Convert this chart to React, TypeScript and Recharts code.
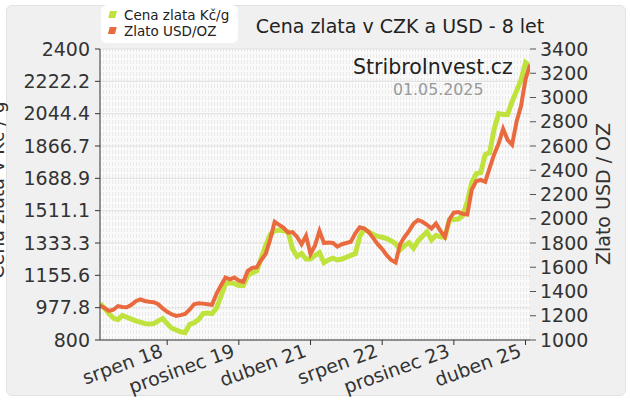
import { CartesianGrid, Line, LineChart, XAxis, YAxis } from "recharts";

// Cena zlata v CZK a USD - 8 let (měsíčně, květen 2017 – květen 2025)
const monthNames = [
  "leden", "únor", "březen", "duben", "květen", "červen",
  "červenec", "srpen", "září", "říjen", "listopad", "prosinec",
];
const months = Array.from({ length: 97 }, (_, k) => {
  const m = 4 + k;
  return `${monthNames[m % 12]} ${17 + Math.floor(m / 12)}`;
});

const czk = [
  1000, 975, 945, 920, 912, 935, 925, 915, 905, 898, 890, 888, 890, 905, 918, 890,
  865, 855, 845, 840, 885, 895, 912, 945, 948, 945, 975, 1040, 1110, 1115, 1110, 1100,
  1100, 1155, 1170, 1180, 1250, 1320, 1380, 1400, 1405, 1400, 1395, 1300, 1260, 1275, 1245, 1245,
  1265, 1280, 1225, 1240, 1250, 1240, 1245, 1255, 1265, 1275, 1370, 1410, 1395, 1380, 1370, 1365,
  1358, 1345, 1330, 1295, 1320, 1335, 1305, 1345, 1370, 1395, 1350, 1375, 1368, 1365, 1460, 1462,
  1465, 1485, 1560, 1665, 1715, 1720, 1820, 1830, 1960, 2045, 2040, 2040, 2110, 2170, 2230, 2325,
  2305,
];

const usd = [
  1285, 1265, 1240, 1250, 1280, 1272, 1270, 1290, 1320, 1335, 1322, 1315, 1312, 1295, 1260, 1233,
  1212, 1198, 1205, 1215, 1250, 1295, 1302, 1300, 1295, 1290, 1380, 1450, 1515, 1500, 1515, 1490,
  1480, 1570, 1595, 1600, 1660, 1710, 1830, 1975, 1950, 1925, 1885, 1890, 1850, 1790, 1860, 1710,
  1780, 1900, 1800, 1805, 1800, 1770, 1790, 1800, 1810, 1880, 1930, 1920, 1890, 1840, 1790, 1750,
  1700, 1660, 1640, 1790, 1850, 1900, 1960, 1990, 1975, 1950, 1920, 1960, 1900, 1850, 1995, 2050,
  2055, 2040, 2035, 2240, 2310, 2320, 2305, 2420, 2530, 2620, 2740, 2650, 2610, 2800, 2930, 3150,
  3270,
];

const dateTicks = [15, 31, 47, 63, 79, 95];
const leftTicks = [800, 977.8, 1155.6, 1333.3, 1511.1, 1688.9, 1866.7, 2044.4, 2222.2, 2400];
const rightTicks = [1000, 1200, 1400, 1600, 1800, 2000, 2200, 2400, 2600, 2800, 3000, 3200, 3400];

const data = months.map((mes, i) => ({ i, mes, czk: czk[i], usd: usd[i] }));

const FONT = "'DejaVu Sans', Verdana, sans-serif";
const GREEN = "#bfe33c";
const ORANGE = "#e96a3e";

function DateTick(props: any) {
  const { x, y, payload } = props;
  const tx = x - 3;
  const ty = y + 9;
  return (
    <text
      x={tx}
      y={ty}
      textAnchor="end"
      fontSize={19}
      fill="#333"
      fontFamily={FONT}
      transform={`rotate(-20 ${tx} ${ty})`}
    >
      {months[payload.value]}
    </text>
  );
}

export default function App() {
  return (
    <div style={{ position: "absolute", left: 0, top: 0, width: 630, height: 400, fontFamily: FONT }}>
      <svg width={0} height={0} style={{ position: "absolute" }}>
        <defs>
          <pattern id="hatch" width={3} height={6} patternUnits="userSpaceOnUse">
            <rect width={3} height={6} fill="#fafafa" />
            <rect x={1} y={0} width={1} height={4} fill="#e9e9e9" />
          </pattern>
        </defs>
      </svg>
      <div
        style={{
          position: "absolute",
          left: 6,
          top: 5,
          width: 618,
          height: 389,
          background: "#f0f0f0",
          border: "1px solid #e2e2e2",
          borderRadius: 6,
        }}
      />
      <div style={{ position: "absolute", left: 0, top: 0 }}>
        <LineChart width={630} height={400} data={data} margin={{ top: 49, right: 5, bottom: 10, left: 10 }}>
          <CartesianGrid yAxisId="left" vertical={false} stroke="#e0e0e0" fill="url(#hatch)" />
          <XAxis
            dataKey="i"
            type="number"
            domain={[0, 96]}
            ticks={dateTicks}
            tick={<DateTick />}
            height={50}
            stroke="#333"
            tickSize={5}
            allowDataOverflow
          />
          <YAxis
            yAxisId="left"
            domain={[800, 2400]}
            ticks={leftTicks}
            tickFormatter={(v) => String(v)}
            width={90}
            stroke="#333"
            tickSize={5}
            tickMargin={5}
            tick={{ fontSize: 19, fill: "#333", fontFamily: FONT }}
            interval={0}
          />
          <YAxis
            yAxisId="right"
            orientation="right"
            domain={[1000, 3400]}
            ticks={rightTicks}
            width={95}
            axisLine={false}
            tickLine={{ stroke: "#555" }}
            tickSize={6}
            tickMargin={4}
            tick={{ fontSize: 19, fill: "#333", fontFamily: FONT, textAnchor: "start" }}
            interval={0}
          />
          <Line
            yAxisId="left"
            dataKey="czk"
            stroke={GREEN}
            strokeWidth={5}
            dot={false}
            type="linear"
            isAnimationActive={false}
          />
          <Line
            yAxisId="right"
            dataKey="usd"
            stroke={ORANGE}
            strokeWidth={4}
            dot={false}
            type="linear"
            isAnimationActive={false}
          />
        </LineChart>
      </div>
      <svg
        width={630}
        height={400}
        style={{ position: "absolute", left: 0, top: 0, pointerEvents: "none" }}
        fontFamily={FONT}
      >
        <rect x={101} y={5} width={137} height={38} rx={6} fill="#fff" />
        <rect x={110} y={11} width={7} height={7} fill={GREEN} transform="skewX(-15) translate(3 0)" />
        <rect x={110} y={27} width={7} height={7} fill={ORANGE} transform="skewX(-15) translate(7 0)" />
        <text x={124} y={20} fontSize={13.5} fill="#222">Cena zlata Kč/g</text>
        <text x={124} y={36} fontSize={13.5} fill="#222">Zlato USD/OZ</text>
        <text x={400} y={33} fontSize={19} fill="#222" textAnchor="middle">
          Cena zlata v CZK a USD - 8 let
        </text>
        <text x={353} y={74} fontSize={20.5} fill="#222">StribroInvest.cz</text>
        <text x={393} y={95} fontSize={15.8} fill="#999">01.05.2025</text>
        <text x={4} y={190} fontSize={19} fill="#333" textAnchor="middle" transform="rotate(-90 4 190)">
          Cena zlata v Kč / g
        </text>
        <text x={610} y={194} fontSize={19} fill="#333" textAnchor="middle" transform="rotate(-90 610 194)">
          Zlato USD / OZ
        </text>
      </svg>
    </div>
  );
}
